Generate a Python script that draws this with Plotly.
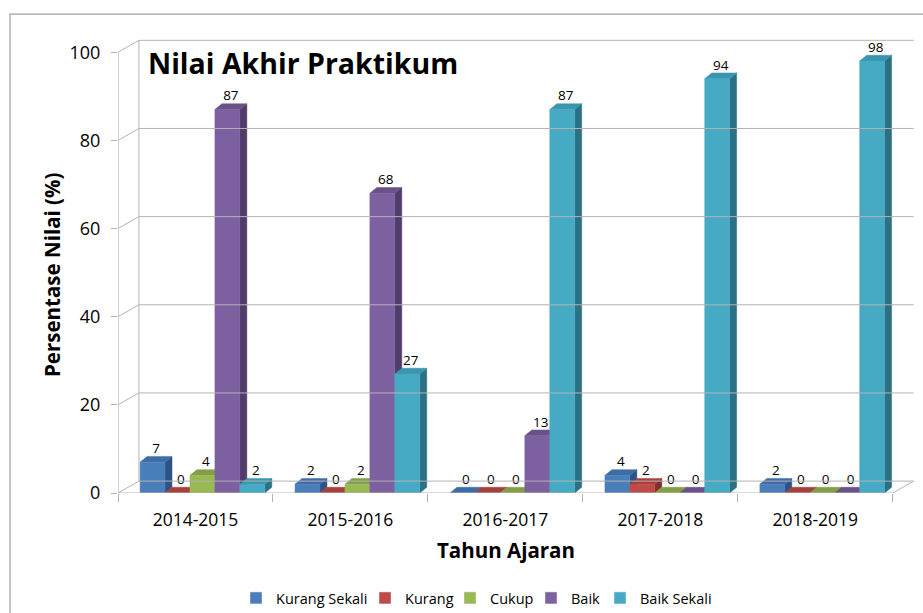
import plotly.graph_objects as go

categories = ["2014-2015", "2015-2016", "2016-2017", "2017-2018", "2018-2019"]
series_names = ["Kurang Sekali", "Kurang", "Cukup", "Baik", "Baik Sekali"]
kurang_sekali = [7, 2, 0, 4, 2]
kurang = [0, 0, 0, 2, 0]
cukup = [4, 2, 0, 0, 0]
baik = [87, 68, 13, 0, 0]
baik_sekali = [2, 27, 87, 94, 98]
y_ticks = [0, 20, 40, 60, 80, 100]

series_values = [kurang_sekali, kurang, cukup, baik, baik_sekali]

# colours: front, top, side
front_cols = ["#4A7EBB", "#BE4B48", "#98B954", "#7D60A0", "#46AAC5"]
top_cols = ["#3E6CA4", "#A5403D", "#829F47", "#6A5189", "#3A95AE"]
side_cols = ["#2E5283", "#7F302E", "#637A35", "#4F3C68", "#2B7083"]

# geometry (data units)
bar_w = 0.161
shift = 0.045
dx, dy = 0.045, 1.3          # bar depth
gdx, gdy = 0.135, 2.7        # wall / floor depth
x_left, x_right = -0.5, 4.5
grid_col = "#B3B3B3"

# plot-area pixel layout
L, R, T, B = 118, 7, 39, 120
W, H = 923, 613
pw = W - L - R

def px_to_paper_x(px):
    return (px - L) / pw

fig = go.Figure()

shapes = []
for v in y_ticks:
    shapes.append(dict(type="line", xref="x", yref="y", x0=x_left, y0=v, x1=x_left + gdx, y1=v + gdy,
                       line=dict(color=grid_col, width=1)))
    shapes.append(dict(type="line", xref="x", yref="y", x0=x_left + gdx, y0=v + gdy, x1=x_right + gdx, y1=v + gdy,
                       line=dict(color=grid_col, width=1)))
shapes.append(dict(type="line", xref="x", yref="y", x0=x_left + gdx, y0=gdy, x1=x_left + gdx, y1=y_ticks[-1] + gdy,
                   line=dict(color=grid_col, width=1)))
shapes.append(dict(type="line", xref="x", yref="y", x0=x_left, y0=0, x1=x_right, y1=0,
                   line=dict(color=grid_col, width=1.2)))
shapes.append(dict(type="line", xref="x", yref="y", x0=x_right, y0=0, x1=x_right + gdx, y1=gdy,
                   line=dict(color=grid_col, width=1)))
shapes.append(dict(type="line", xref="x", yref="y", x0=x_left, y0=0, x1=x_left, y1=y_ticks[-1],
                   line=dict(color=grid_col, width=1.2)))
# outer chart border
shapes.append(dict(type="rect", xref="paper", yref="paper", x0=px_to_paper_x(10), y0=-0.30, x1=1.02, y1=1.055,
                   line=dict(color="#A0A0A0", width=1.2), layer="below"))

n = len(series_names)
for i, (name, vals) in enumerate(zip(series_names, series_values)):
    fx, fy, tx, ty, sx, sy = [], [], [], [], [], []
    lx, ly = [], []
    for j, v in enumerate(vals):
        xl = j - n / 2 * bar_w + i * bar_w + shift
        xr = xl + bar_w
        fx += [xl, xr, xr, xl, xl, None]
        fy += [0, 0, v, v, 0, None]
        tx += [xl, xr, xr + dx, xl + dx, xl, None]
        ty += [v, v, v + dy, v + dy, v, None]
        sx += [xr, xr + dx, xr + dx, xr, xr, None]
        sy += [0, dy, v + dy, v, 0, None]
        lx.append((xl + xr) / 2 + dx / 2)
        ly.append(v + dy)
    common = dict(mode="lines", fill="toself", hoverinfo="skip", showlegend=False)
    fig.add_trace(go.Scatter(x=sx, y=sy, fillcolor=side_cols[i], line=dict(color=side_cols[i], width=0.5), **common))
    fig.add_trace(go.Scatter(x=tx, y=ty, fillcolor=top_cols[i], line=dict(color=top_cols[i], width=0.5), **common))
    fig.add_trace(go.Scatter(x=fx, y=fy, fillcolor=front_cols[i], line=dict(color=front_cols[i], width=0.5), **common))
    fig.add_trace(go.Scatter(x=lx, y=ly, mode="text", text=[str(v) for v in vals], textposition="top center",
                             textfont=dict(family="Open Sans", size=13.5, color="#000000"),
                             hoverinfo="skip", showlegend=False))

# legend entries, each in its own legend for exact placement
legend_sym_px = [258, 387, 472, 553, 622]
legend_layout = {}
for i, name in enumerate(series_names):
    key = "legend" if i == 0 else f"legend{i + 1}"
    fig.add_trace(go.Bar(x=[None], y=[None], name=name, marker_color=front_cols[i], showlegend=True,
                         legend=key))
    legend_layout[key] = dict(orientation="h", x=px_to_paper_x(legend_sym_px[i] - 22), xanchor="left",
                              y=(H - B - 598) / (H - T - B), yanchor="middle", bgcolor="rgba(0,0,0,0)",
                              font=dict(size=14.5, family="Open Sans", color="#000000"), itemwidth=30)

fig.update_layout(
    width=W, height=H,
    margin=dict(l=L, r=R, t=T, b=B, autoexpand=False),
    paper_bgcolor="white", plot_bgcolor="white",
    font=dict(family="Open Sans", color="#000000"),
    showlegend=True,
    xaxis=dict(range=[x_left, x_right + 0.15], tickvals=list(range(len(categories))), ticktext=categories,
               ticks="", showgrid=False, zeroline=False, showline=False, automargin=False,
               tickfont=dict(size=17.5, family="Open Sans"), ticklabelstandoff=14,
               minor=dict(tickvals=[k - 0.5 for k in range(len(categories) + 1)], ticks="outside",
                          ticklen=8, tickcolor=grid_col, showgrid=False)),
    yaxis=dict(range=[0, 103], tickvals=y_ticks, ticks="outside", ticklen=6, tickcolor=grid_col,
               showgrid=False, zeroline=False, showline=False, automargin=False,
               tickfont=dict(size=18, family="Open Sans"), ticklabelstandoff=7),
    shapes=shapes,
    annotations=[
        dict(text="Nilai Akhir Praktikum", xref="paper", yref="paper", x=px_to_paper_x(146),
             y=(H - B - 63) / (H - T - B),
             xanchor="left", yanchor="middle", showarrow=False,
             font=dict(size=28.5, family="Open Sans", weight="bold", color="#000000")),
        dict(text="Persentase Nilai (%)", xref="paper", yref="paper", x=px_to_paper_x(52),
             y=(H - B - 275) / (H - T - B),
             xanchor="center", yanchor="middle", textangle=-90, showarrow=False,
             font=dict(size=20.5, family="Open Sans", weight="bold", color="#000000")),
        dict(text="Tahun Ajaran", xref="paper", yref="paper", x=px_to_paper_x(506),
             y=(H - B - 550) / (H - T - B),
             xanchor="center", yanchor="middle", showarrow=False,
             font=dict(size=20.5, family="Open Sans", weight="bold", color="#000000")),
    ],
    **legend_layout,
)

fig.write_html("out.html", config={"displayModeBar": False},
               post_script="document.body.style.margin='0';document.body.style.overflow='hidden';")
